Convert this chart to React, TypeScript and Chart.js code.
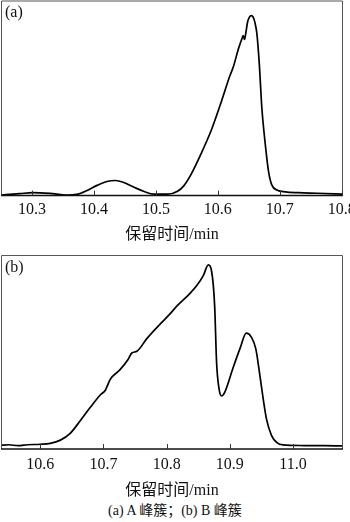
import React, { useEffect, useRef } from "react";
import { Chart, registerables } from "chart.js";

Chart.register(...registerables);

// Panel (a): A peak cluster
const timeA = [10.247, 10.28, 10.301, 10.329, 10.356, 10.372, 10.388, 10.405, 10.421, 10.435, 10.448, 10.464, 10.481, 10.497, 10.519, 10.535, 10.545, 10.557, 10.573, 10.59, 10.606, 10.619, 10.625, 10.633, 10.639, 10.641, 10.643, 10.645, 10.648, 10.651, 10.654, 10.657, 10.66, 10.663, 10.667, 10.671, 10.677, 10.682, 10.687, 10.696, 10.709, 10.73, 10.76, 10.802];
const signalA = [0.5, 2.0, 3.0, 2.2, 0.6, 1.2, 5.0, 10.5, 14.5, 15.5, 13.5, 8.8, 4.2, 1.5, 1.5, 4.5, 10, 22, 43, 68, 97, 122, 132, 150, 161, 164, 160, 166, 178, 183, 184.5, 183, 177, 166, 134, 90, 50, 24, 11, 5.5, 3.8, 3.0, 2.4, 1.5];

// Panel (b): B peak cluster
const timeB = [10.537, 10.55, 10.565, 10.58, 10.6, 10.616, 10.632, 10.647, 10.663, 10.679, 10.695, 10.703, 10.711, 10.726, 10.739, 10.745, 10.753, 10.769, 10.79, 10.805, 10.816, 10.837, 10.848, 10.858, 10.866, 10.871, 10.876, 10.879, 10.883, 10.887, 10.892, 10.905, 10.916, 10.926, 10.934, 10.941, 10.948, 10.953, 10.958, 10.966, 10.974, 10.984, 11.016, 11.05, 11.079];
const signalB = [4, 4.5, 3.5, 4.5, 5, 6, 9.3, 16, 29, 43, 56, 61, 72.5, 82, 92.7, 99.5, 101.3, 114.7, 129.7, 139.7, 148, 161.3, 169.7, 179.7, 190.7, 184.7, 148, 90, 62, 55, 59, 84, 104, 120, 116, 104, 74, 51, 31, 14, 7, 4.3, 3.7, 3.5, 3.3];

const xTitle = "保留时间/min";
const caption = "(a) A 峰簇；(b) B 峰簇";
const rangeA = [10.25, 10.802];
const rangeB = [10.538, 11.079];

const serif = "'Liberation Serif', 'Noto Sans CJK SC', serif";

const framePlugin = {
  id: "frame",
  afterDatasetsDraw(chart: any) {
    const { ctx, chartArea: a, scales } = chart;
    const x = scales.x;
    ctx.save();
    ctx.strokeStyle = "#555";
    ctx.lineWidth = 1;
    ctx.beginPath();
    ctx.moveTo(a.left + 0.5, a.bottom);
    ctx.lineTo(a.left + 0.5, a.top + 0.5);
    ctx.lineTo(a.right - 0.5, a.top + 0.5);
    ctx.lineTo(a.right - 0.5, a.bottom);
    ctx.stroke();
    ctx.strokeStyle = "#111";
    ctx.lineWidth = 1.5;
    ctx.beginPath();
    ctx.moveTo(a.left, a.bottom);
    ctx.lineTo(a.right, a.bottom);
    ctx.stroke();
    ctx.lineWidth = 1;
    ctx.strokeStyle = "#333";
    x.ticks.forEach((t: any) => {
      const px = Math.round(x.getPixelForValue(t.value)) + 0.5;
      ctx.beginPath();
      ctx.moveTo(px, a.bottom);
      ctx.lineTo(px, a.bottom - 5);
      ctx.stroke();
    });
    ctx.restore();
  },
};

function Panel(props: {
  times: number[];
  values: number[];
  range: number[];
  yMax: number;
  padTop: number;
  tickPad: number;
  titlePad: { top: number; bottom: number };
}) {
  const ref = useRef<HTMLCanvasElement>(null);
  useEffect(() => {
    const data = props.times.map((t, i) => ({ x: t, y: props.values[i] }));
    const chart = new Chart(ref.current as HTMLCanvasElement, {
      type: "line",
      data: {
        datasets: [
          {
            data,
            borderColor: "#000",
            borderWidth: 1.7,
            pointRadius: 0,
            cubicInterpolationMode: "monotone",
            fill: false,
          },
        ],
      },
      options: {
        animation: false,
        responsive: false,
        parsing: false as any,
        layout: { padding: { left: 1, right: 7, top: props.padTop, bottom: 0 } },
        plugins: { legend: { display: false }, tooltip: { enabled: false } },
        scales: {
          x: {
            type: "linear",
            min: props.range[0],
            max: props.range[1],
            grid: { display: false, drawTicks: false },
            border: { display: false },
            afterFit: (s: any) => {
              s.paddingLeft = 0;
              s.paddingRight = 0;
            },
            ticks: {
              stepSize: 0.1,
              includeBounds: false,
              autoSkip: false,
              maxRotation: 0,
              padding: props.tickPad,
              color: "#111",
              font: { family: serif, size: 16 },
              callback: (v: any) => Number(v).toFixed(1),
            },
            title: {
              display: true,
              text: xTitle,
              color: "#111",
              font: { family: serif, size: 16 },
              padding: props.titlePad,
            },
          },
          y: { display: false, min: 0, max: props.yMax },
        },
      },
      plugins: [framePlugin],
    });
    return () => chart.destroy();
  }, []);
  return <canvas ref={ref} width={350} height={250} style={{ display: "block" }} />;
}

export default function App() {
  useEffect(() => {
    document.body.style.margin = "0";
  }, []);
  const label: React.CSSProperties = {
    position: "absolute",
    left: 5,
    fontFamily: serif,
    fontSize: 16,
    color: "#111",
    lineHeight: "16px",
  };
  return (
    <div style={{ position: "absolute", left: 0, top: 0, width: 350, height: 522, background: "#fff" }}>
      <div style={{ position: "absolute", left: 0, top: 0 }}>
        <Panel times={timeA} values={signalA} range={rangeA} yMax={200} padTop={0.5} tickPad={5} titlePad={{ top: 0, bottom: 6 }} />
      </div>
      <div style={{ position: "absolute", left: 0, top: 250 }}>
        <Panel times={timeB} values={signalB} range={rangeB} yMax={201} padTop={5} tickPad={6} titlePad={{ top: 0.5, bottom: 0 }} />
      </div>
      <div style={{ ...label, top: 4 }}>(a)</div>
      <div style={{ ...label, top: 259 }}>(b)</div>
      <div
        style={{
          position: "absolute",
          left: 0,
          width: 350,
          top: 503,
          textAlign: "center",
          fontFamily: serif,
          fontSize: 14,
          lineHeight: "16px",
          color: "#111",
        }}
      >
        {caption}
      </div>
    </div>
  );
}
